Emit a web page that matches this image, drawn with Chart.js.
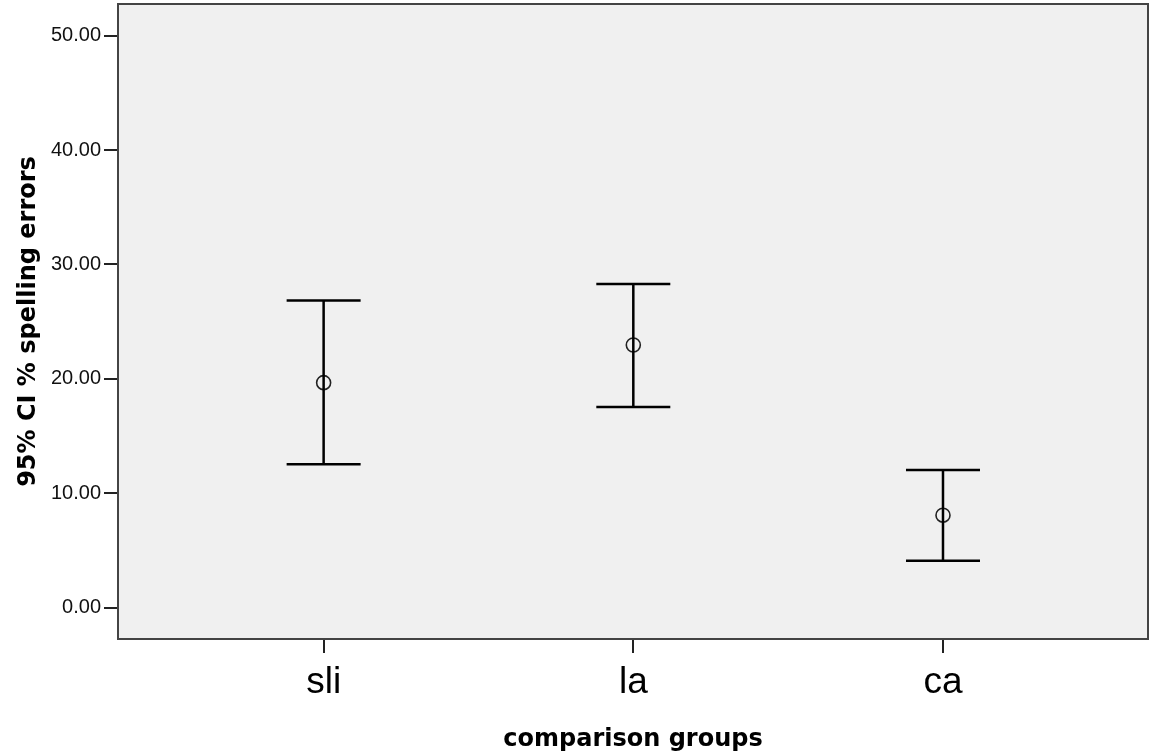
<!DOCTYPE html>
<html>
<head>
<meta charset="utf-8">
<script src="https://cdn.jsdelivr.net/npm/chart.js@4/dist/chart.umd.min.js"></script>
<style>
  html, body { margin: 0; padding: 0; background: #fff; }
  #wrap { width: 1154px; height: 754px; }
</style>
</head>
<body>
<div id="wrap"><canvas id="ciChart"></canvas></div>
<script>
// data
const groups = ['sli', 'la', 'ca'];
const means = [19.67, 22.96, 8.08];
const lowerCI = [12.53, 17.54, 4.11];
const upperCI = [26.84, 28.30, 12.04];
const yTicks = [0, 10, 20, 30, 40, 50];

// plot background + frame
const framePlugin = {
  id: 'frame',
  beforeDraw(chart) {
    const { ctx, chartArea: a } = chart;
    ctx.save();
    ctx.fillStyle = '#f0f0f0';
    ctx.fillRect(a.left, a.top, a.right - a.left, a.bottom - a.top);
    ctx.restore();
  },
  afterDraw(chart) {
    const { ctx, chartArea: a } = chart;
    ctx.save();
    ctx.strokeStyle = '#444';
    ctx.lineWidth = 2;
    ctx.strokeRect(a.left, a.top, a.right - a.left, a.bottom - a.top);
    ctx.restore();
  }
};

// whiskers drawn through the scales
const errorBarPlugin = {
  id: 'errorBars',
  afterDatasetsDraw(chart) {
    const { ctx, scales: { x, y } } = chart;
    ctx.save();
    ctx.strokeStyle = '#000';
    ctx.lineWidth = 2.5;
    groups.forEach((g, i) => {
      const px = x.getPixelForValue(i);
      const top = y.getPixelForValue(upperCI[i]);
      const bot = y.getPixelForValue(lowerCI[i]);
      ctx.beginPath();
      ctx.moveTo(px, top);
      ctx.lineTo(px, bot);
      ctx.moveTo(px - 37, top);
      ctx.lineTo(px + 37, top);
      ctx.moveTo(px - 37, bot);
      ctx.lineTo(px + 37, bot);
      ctx.stroke();
    });
    ctx.restore();
  }
};

function noPad(s) {
  s.paddingTop = 0;
  s.paddingBottom = 0;
  s.paddingLeft = 0;
  s.paddingRight = 0;
}

new Chart(document.getElementById('ciChart'), {
  type: 'scatter',
  data: {
    datasets: [{
      label: 'mean',
      data: means.map((m, i) => ({ x: i, y: m })),
      pointRadius: 7,
      pointHoverRadius: 7,
      pointBorderWidth: 1.6,
      pointBorderColor: '#222',
      pointBackgroundColor: 'rgba(0,0,0,0)'
    }]
  },
  options: {
    responsive: true,
    maintainAspectRatio: false,
    animation: false,
    events: [],
    layout: { autoPadding: false, padding: { top: 4, right: 6, left: 0, bottom: 0 } },
    plugins: {
      legend: { display: false },
      tooltip: { enabled: false }
    },
    scales: {
      x: {
        type: 'linear',
        min: -0.664,
        max: 2.662,
        afterBuildTicks: s => { s.ticks = groups.map((g, i) => ({ value: i })); },
        afterFit: s => { s.height = 115; noPad(s); },
        border: { display: false },
        grid: { drawOnChartArea: false, tickLength: 14, color: '#222', lineWidth: 2 },
        ticks: {
          color: '#000',
          padding: 8,
          font: { family: 'Liberation Sans, Arial', size: 37 },
          callback: v => groups[v]
        },
        title: {
          display: true,
          text: 'comparison groups',
          color: '#000',
          padding: { top: 0, bottom: 0 },
          font: { family: 'DejaVu Sans', size: 24, weight: 'bold' }
        }
      },
      y: {
        min: -2.74,
        max: 52.77,
        afterBuildTicks: s => { s.ticks = yTicks.map(v => ({ value: v })); },
        afterFit: s => { s.width = 118; noPad(s); },
        border: { display: false },
        grid: { drawOnChartArea: false, tickLength: 14, color: '#222', lineWidth: 2 },
        ticks: {
          color: '#111',
          padding: 3,
          font: { family: 'Liberation Sans, Arial', size: 20 },
          callback: v => v.toFixed(2)
        },
        title: {
          display: true,
          text: '95% CI % spelling errors',
          color: '#000',
          padding: { top: 14, bottom: 0 },
          font: { family: 'DejaVu Sans', size: 24, weight: 'bold' }
        }
      }
    }
  },
  plugins: [framePlugin, errorBarPlugin]
});
</script>
</body>
</html>
